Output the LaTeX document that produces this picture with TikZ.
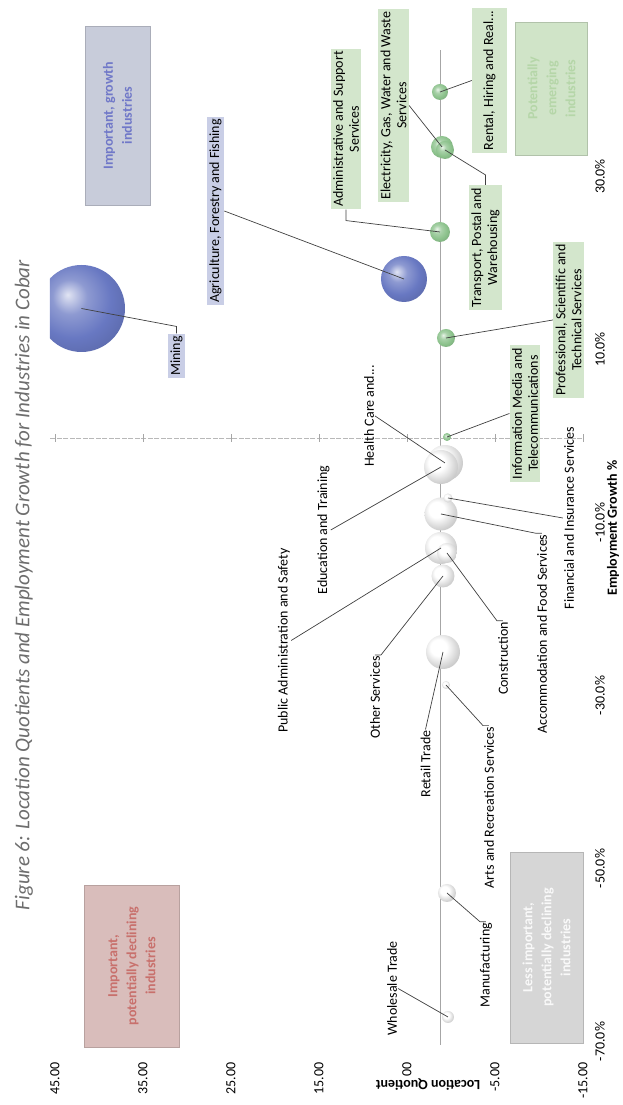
\documentclass[tikz,border=0pt]{standalone}
\usepackage{fontspec}
\setmainfont{Carlito}
\usetikzlibrary{positioning}
\definecolor{BubBlue}{HTML}{6878C2}
\definecolor{BubGreen}{HTML}{8CC28C}
\definecolor{BubGrey}{HTML}{CACACA}
\definecolor{LblBlue}{HTML}{C9CEE6}
\definecolor{LblGreen}{HTML}{D3E6CC}
\definecolor{QuadBlue}{HTML}{C8CCDA}
\definecolor{QuadBlueText}{HTML}{7078C8}
\definecolor{QuadRed}{HTML}{D9BDBB}
\definecolor{QuadRedText}{HTML}{C8706C}
\definecolor{QuadGrey}{HTML}{D6D6D6}
\definecolor{QuadGreen}{HTML}{D0E4C8}
\definecolor{QuadGreenText}{HTML}{B5D6A8}
\definecolor{TitleGrey}{HTML}{6E6E6E}
\definecolor{AxisGrey}{HTML}{A6A6A6}

\newcommand\declareball[2]{\pgfdeclareradialshading{#1}{\pgfqpoint{-8bp}{8bp}}{%
  color(0bp)=(#2!20!white); color(10bp)=(#2!75!white); color(22bp)=(#2);
  color(40bp)=(#2!80!black); color(60bp)=(#2!65!black)}}
\declareball{ballblue}{BubBlue}
\declareball{ballgreen}{BubGreen}
\pgfdeclareradialshading{ballgrey}{\pgfqpoint{-8bp}{8bp}}{%
  color(0bp)=(white); color(12bp)=(white); color(24bp)=(BubGrey!70!white);
  color(40bp)=(BubGrey!85!black); color(60bp)=(BubGrey!70!black)}

\newcommand\lblfont{\fontsize{14}{16}\selectfont}
\newcommand\quadfont{\fontsize{14}{19}\selectfont\bfseries}

\begin{document}
\begin{tikzpicture}[x=1pt, y=1pt,
  bubble/.style={circle, inner sep=0pt, minimum size=#1, shade},
  gbub/.style={bubble=#1, shading=ballgreen},
  bbub/.style={bubble=#1, shading=ballblue},
  wbub/.style={bubble=#1, shading=ballgrey},
  lbl/.style={font=\lblfont, inner sep=1pt},
  glbl/.style={lbl, fill=LblGreen, align=center, inner sep=2.5pt},
  blbl/.style={lbl, fill=LblBlue, inner sep=2.5pt},
  leader/.style={draw=black!75, line width=0.7pt},
  quad/.style={font=\quadfont, align=center, draw=#1!85!black, fill=#1, line width=0.6pt},
  ticklbl/.style={font=\lblfont}]
\begin{scope}[rotate=90, transform shape]
\useasboundingbox (0,0) rectangle (1105,622);

% title
\node[font=\fontsize{21}{24}\selectfont\itshape, text=TitleGrey] (title) at (520,598)
  {Figure 6: Location Quotients and Employment Growth for Industries in Cobar};

% axes
\draw[AxisGrey, line width=0.6pt] (60,182) -- (1055,182);
\draw[AxisGrey!80, line width=0.5pt, dash pattern=on 5pt off 1.5pt] (667,40) -- (667,572);
\foreach \v/\t [count=\i] in {567/45.00, 479/35.00, 391/25.00, 303/15.00, 215/5.00, 127/-5.00, 39/-15.00} {
  \draw[AxisGrey] (663,\v) -- (671,\v);
  \node[ticklbl, anchor=east] (lqtick\i) at (46,\v) {\t};
}
\foreach \u/\t [count=\i] in {63.5/-70.0\%, 236.5/-50.0\%, 409.5/-30.0\%, 582.5/-10.0\%, 755.5/10.0\%, 928.5/30.0\%}
  \node[ticklbl] (egtick\i) at (\u,22) {\t};
\node[ticklbl, font=\lblfont\bfseries, rotate=90, fill=white] (lqtitle) at (20,194) {Location Quotient};
\node[ticklbl, font=\lblfont\bfseries] (egtitle) at (577,9) {Employment Growth \%};

% quadrants
\node[quad=QuadBlue, text=QuadBlueText, minimum width=179, minimum height=65] (q-growth) at (989.5,504.5) {Important, growth\\industries};
\node[quad=QuadRed, text=QuadRedText, minimum width=162, minimum height=95] (q-declining) at (139,490) {Important,\\potentially declining\\industries};
\node[quad=QuadGrey, text=white!85!QuadGrey, minimum width=191, minimum height=73] (q-less) at (157.5,75.5) {Less important,\\potentially declining\\industries};
\node[quad=QuadGreen, text=QuadGreenText, minimum width=133, minimum height=72] (q-emerging) at (1016.5,70.5) {Potentially\\emerging\\industries};

% bubbles
\begin{scope}
\clip (0,0) rectangle (1105,572);
\node[bbub=87] (b-mining) at (796.5,540.5) {};
\end{scope}
\node[bbub=46] (b-agri) at (826,218) {};
\node[gbub=16] (b-rental) at (1013,182) {};
\node[gbub=22] (b-elec) at (958,180) {};
\node[gbub=18] (b-transport) at (955,177) {};
\node[gbub=20] (b-admin) at (873,182) {};
\node[gbub=18] (b-prof) at (767,176) {};
\node[gbub=8] (b-info) at (668,175) {};
\node[wbub=36] (b-health) at (642,177) {};
\node[wbub=34] (b-educ) at (638,181) {};
\node[wbub=33] (b-accom) at (591,181) {};
\node[wbub=9] (b-fin) at (607,174) {};
\node[wbub=32] (b-pubadmin) at (557,181) {};
\node[wbub=20] (b-constr) at (552,175) {};
\node[wbub=23] (b-other) at (529,179) {};
\node[wbub=34] (b-retail) at (453,179) {};
\node[wbub=8] (b-arts) at (420,176) {};
\node[wbub=18] (b-manuf) at (212,175) {};
\node[wbub=12] (b-whole) at (88,174) {};

% labels
\node[glbl, minimum height=35] (rental) at (1024.5,132.5) {Rental, Hiring and Real...};
\node[glbl] (elec) at (999.5,228.5) {Electricity, Gas, Water and Waste\\Services};
\node[glbl] (transport) at (857.5,136.5) {Transport, Postal and\\Warehousing};
\node[glbl] (admin) at (976,276) {Administrative and Support\\Services};
\node[glbl] (prof) at (785,53.5) {Professional, Scientific and\\Technical Services};
\node[glbl] (info) at (691.5,97) {Information Media and\\Telecommunications};
\node[blbl] (agri) at (894,406.5) {Agriculture, Forestry and Fishing};
\node[blbl] (mining) at (749,445.5) {Mining};
\node[lbl, fill=white] (health) at (689,253) {Health Care and...};
\node[lbl] (educ) at (575,298.5) {Education and Training};
\node[lbl] (fin) at (587,53) {Financial and Insurance Services};
\node[lbl] (accom) at (471,80) {Accommodation and Food Services};
\node[lbl] (constr) at (446.5,119) {Construction};
\node[lbl] (pubadmin) at (464.5,338) {Public Administration and Safety};
\node[lbl] (other) at (407.5,247) {Other Services};
\node[lbl] (retail) at (341,196.5) {Retail Trade};
\node[lbl] (arts) at (297.5,133) {Arts and Recreation Services};
\node[lbl] (manuf) at (140,136) {Manufacturing};
\node[lbl] (whole) at (116.5,230) {Wholesale Trade};

% leaders
\draw[leader] (whole.south) -- (b-whole.center);
\draw[leader] (manuf.east) -- ++(0,6) -- (b-manuf.center);
\draw[leader] (arts.east) -- ++(0,6) -- (b-arts.center);
\draw[leader] (retail.east) -- (b-retail.center);
\draw[leader] (constr.east) -- ++(0,6) -- (b-constr.center);
\draw[leader] (other.east) -- ++(0,-6) -- (b-other.center);
\draw[leader] (pubadmin.south) -- (b-pubadmin.center);
\draw[leader] (educ.south) -- (b-educ.center);
\draw[leader] (health.south) -- (b-health.center);
\draw[leader] (fin.north) -- (b-fin.center);
\draw[leader] (accom.east) -- ++(0,6) -- (b-accom.center);
\draw[leader] (info.north) -- (b-info.center);
\draw[leader] (prof.north) -- (b-prof.center);
\draw[leader] (transport.east) -- ++(10,0) -- (b-transport.center);
\draw[leader] (elec.south) -- (b-elec.center);
\draw[leader] (admin.west) -- ++(-11,0) -- (b-admin.center);
\draw[leader] (rental.north) -- (b-rental.center);
\draw[leader] (agri.south) -- (b-agri.center);
\draw[leader] (mining.east) -- ++(7,0) -- (b-mining.center);
\end{scope}
\end{tikzpicture}
\end{document}
